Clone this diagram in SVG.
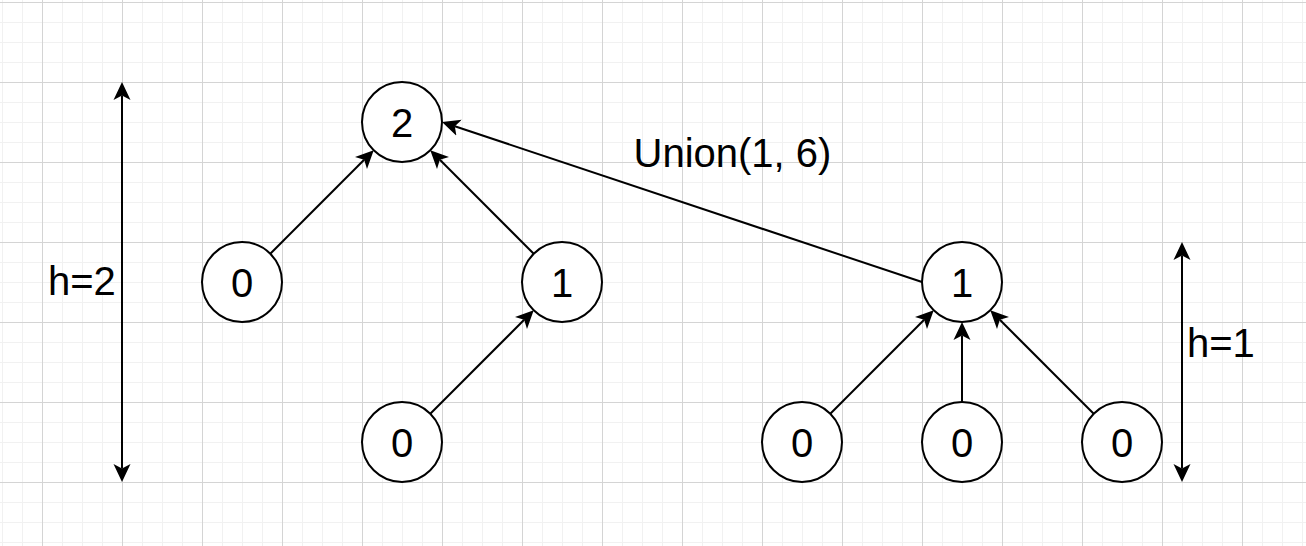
<svg xmlns="http://www.w3.org/2000/svg" width="1306" height="546" viewBox="0 0 1306 546">
<style>
.node circle{fill:#ffffff;stroke:#000000;stroke-width:2}
.node text,.label{font-family:"Liberation Sans",Arial,Helvetica,sans-serif;font-size:40px;fill:#000000}
.node text{text-anchor:middle}
.edge{stroke:#000000;stroke-width:2;fill:none;marker-end:url(#arrow)}
.dbl{marker-start:url(#arrow)}
</style>
<defs>
<pattern id="minor" patternUnits="userSpaceOnUse" x="2" y="2" width="20" height="20">
<path d="M0 0.5 H20 M0.5 0 V20" stroke="#f1f1f1" stroke-width="1" fill="none"/>
</pattern>
<pattern id="major" patternUnits="userSpaceOnUse" x="42" y="2" width="80" height="80">
<path d="M0 0.5 H80 M0.5 0 V80" stroke="#d4d4d4" stroke-width="1" fill="none"/>
</pattern>
<marker id="arrow" markerUnits="userSpaceOnUse" viewBox="0 0 18 18" markerWidth="18" markerHeight="18" refX="4.5" refY="9" orient="auto-start-reverse">
<path d="M18,9 L0,0.5 L4.5,9 L0,17.5 Z" fill="#000000"/>
</marker>
</defs>
<rect x="0" y="0" width="1306" height="546" fill="#ffffff"/>
<rect x="0" y="0" width="1306" height="546" fill="url(#minor)"/>
<rect x="0" y="0" width="1306" height="546" fill="url(#major)"/>

<g id="connectors">
<line class="edge" x1="270.28" y1="253.72" x2="364.17" y2="159.83"/>
<line class="edge" x1="533.72" y1="253.72" x2="439.83" y2="159.83"/>
<line class="edge" x1="430.28" y1="413.72" x2="524.17" y2="319.83"/>
<line class="edge" x1="922" y1="282" x2="454.81" y2="126.27"/>
<line class="edge" x1="830.28" y1="413.72" x2="924.17" y2="319.83"/>
<line class="edge" x1="962" y1="402" x2="962" y2="335.5"/>
<line class="edge" x1="1093.72" y1="413.72" x2="999.83" y2="319.83"/>
<line class="edge dbl" x1="122" y1="95.5" x2="122" y2="468.5"/>
<line class="edge dbl" x1="1182" y1="255.5" x2="1182" y2="468.5"/>
</g>

<g id="node-root-left" class="node"><circle cx="402" cy="122" r="40"/><text x="402" y="136.5">2</text></g>
<g id="node-left-0" class="node"><circle cx="242" cy="282" r="40"/><text x="242" y="296.5">0</text></g>
<g id="node-left-1" class="node"><circle cx="562" cy="282" r="40"/><text x="562" y="296.5">1</text></g>
<g id="node-left-0b" class="node"><circle cx="402" cy="442" r="40"/><text x="402" y="456.5">0</text></g>
<g id="node-root-right" class="node"><circle cx="962" cy="282" r="40"/><text x="962" y="296.5">1</text></g>
<g id="node-right-0a" class="node"><circle cx="802" cy="442" r="40"/><text x="802" y="456.5">0</text></g>
<g id="node-right-0b" class="node"><circle cx="962" cy="442" r="40"/><text x="962" y="456.5">0</text></g>
<g id="node-right-0c" class="node"><circle cx="1122" cy="442" r="40"/><text x="1122" y="456.5">0</text></g>

<g id="labels">
<text class="label" x="633.5" y="167">Union(1, 6)</text>
<text class="label" x="48" y="295">h=2</text>
<text class="label" x="1187" y="357">h=1</text>
</g>
</svg>
